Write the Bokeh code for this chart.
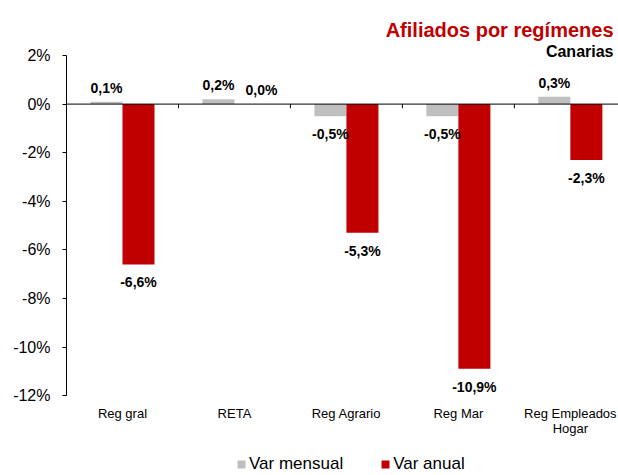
import numpy as np
from bokeh.plotting import figure
from bokeh.models import (ColumnDataSource, LabelSet, Label, FixedTicker,
                          PrintfTickFormatter, Legend, LegendItem, Range1d)
from bokeh.core.properties import value
from bokeh.embed import file_html
from bokeh.resources import INLINE

# ---- data ----
categories = ["Reg gral", "RETA", "Reg Agrario", "Reg Mar", "Reg Empleados\nHogar"]
var_mensual = [0.1, 0.2, -0.5, -0.5, 0.3]
var_anual = [-6.6, 0.0, -5.3, -10.9, -2.3]
y_ticks = [2, 0, -2, -4, -6, -8, -10, -12]
series_names = ["Var mensual", "Var anual"]
title_text = "Afiliados por regímenes"
subtitle_text = "Canarias"

# ---- style ----
GRAY = "#BFBFBF"
RED = "#C00000"
FONT = "Liberation Sans"
BAR_W = 0.286

n = len(categories)
centers = np.arange(n) + 0.5
y_lo, y_hi = min(y_ticks), max(y_ticks)

# frame covers the whole canvas right of the y axis; axis drawn only over [-12, 2]
p = figure(width=618, height=475, output_backend="svg", toolbar_location=None,
           x_range=Range1d(0, 4.93), y_range=Range1d(-15.29, 4.265),
           min_border_left=66, min_border_right=0, min_border_top=0,
           min_border_bottom=0)
p.outline_line_color = None
p.grid.visible = False
p.xaxis.visible = False
p.background_fill_color = "white"
p.border_fill_color = "white"

def fmt(v):
    return f"{v:.1f}%".replace(".", ",")

renderers = []
for vals, color, shift in [(var_mensual, GRAY, -BAR_W / 2), (var_anual, RED, BAR_W / 2)]:
    xs = centers + shift
    src = ColumnDataSource(dict(x=xs, top=vals))
    r = p.vbar(x="x", top="top", bottom=0, width=BAR_W, source=src,
               fill_color=color, line_color=None)
    renderers.append(r)
    pos = [i for i, v in enumerate(vals) if v >= 0]
    neg = [i for i, v in enumerate(vals) if v < 0]
    for idx, base, off in [(pos, "bottom", 6), (neg, "top", -10)]:
        if not idx:
            continue
        lsrc = ColumnDataSource(dict(x=[xs[i] for i in idx], y=[vals[i] for i in idx],
                                     t=[fmt(vals[i]) for i in idx],
                                     dx=[11 if vals[i] == 0 else 0 for i in idx]))
        p.add_layout(LabelSet(x="x", y="y", text="t", source=lsrc, y_offset=off,
                              x_offset="dx",
                              text_align="center", text_baseline=base,
                              text_font=value(FONT), text_font_style="bold",
                              text_font_size="14px", text_color="black"))

# zero line
p.segment(x0=[0], y0=[0], x1=[4.93], y1=[0], line_color="black", line_width=1)
# small category separators on zero line
bounds = np.arange(1, n)
p.segment(x0=bounds, y0=0, x1=bounds, y1=-0.17, line_color="black", line_width=1)

# category labels (each line centred separately)
lines = [c.split("\n") for c in categories]
max_lines = max(len(l) for l in lines)
for k in range(max_lines):
    idx = [i for i, l in enumerate(lines) if len(l) > k]
    csrc = ColumnDataSource(dict(x=[centers[i] for i in idx], y=[y_lo] * len(idx),
                                 t=[lines[i][k] for i in idx]))
    p.add_layout(LabelSet(x="x", y="y", text="t", source=csrc, y_offset=-10 - 15 * k,
                          text_align="center", text_baseline="top",
                          text_font=value(FONT), text_font_size="13px",
                          text_color="black"))

# y axis
p.yaxis.bounds = (y_lo, y_hi)
p.yaxis.ticker = FixedTicker(ticks=y_ticks)
p.yaxis.formatter = PrintfTickFormatter(format="%d%%")
p.yaxis.major_label_text_font = FONT
p.yaxis.major_label_text_font_size = "16px"
p.yaxis.major_label_text_color = "black"
p.yaxis.axis_line_color = "black"
p.yaxis.major_tick_line_color = "black"
p.yaxis.major_tick_out = 4
p.yaxis.major_tick_in = 0
p.yaxis.minor_tick_line_color = None
p.yaxis.major_label_standoff = 12

# legend
legend = Legend(items=[LegendItem(label=series_names[0], renderers=[renderers[0]]),
                       LegendItem(label=series_names[1], renderers=[renderers[1]])],
                orientation="horizontal", location=(170, 1),
                glyph_width=10, glyph_height=10, label_standoff=3, spacing=37,
                padding=0, margin=0, border_line_color=None,
                background_fill_alpha=0, label_text_font=FONT,
                label_text_font_size="17px", label_text_color="black")
p.add_layout(legend, "center")

# titles
p.add_layout(Label(x=547, y=446, x_units="screen", y_units="screen", text=title_text,
                   text_align="right", text_baseline="alphabetic", text_font=FONT,
                   text_font_style="bold", text_font_size="20px", text_color=RED))
p.add_layout(Label(x=547, y=424, x_units="screen", y_units="screen", text=subtitle_text,
                   text_align="right", text_baseline="alphabetic", text_font=FONT,
                   text_font_style="bold", text_font_size="16px", text_color="black"))

open("out.html", "w").write(file_html(p, INLINE))
